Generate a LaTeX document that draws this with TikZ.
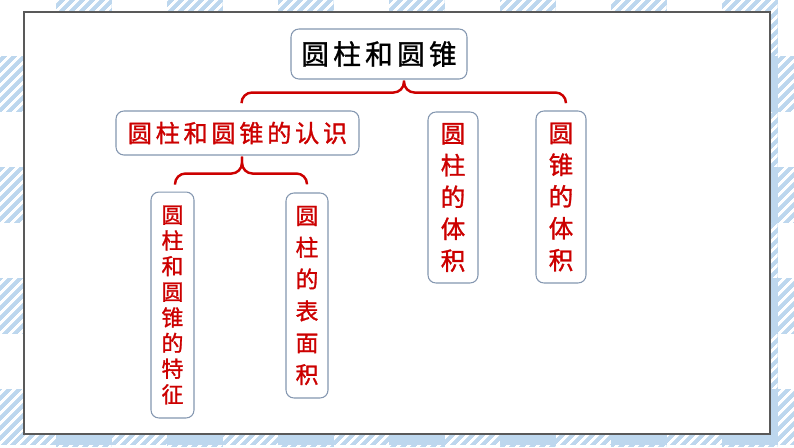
\documentclass[tikz,border=0pt]{standalone}
\usepackage{fontspec}
\newfontfamily\cjk[FakeBold=1.2]{Noto Sans CJK SC}
\newfontfamily\cjkwide[LetterSpace=15,FakeBold=1.2]{Noto Sans CJK SC}
\usetikzlibrary{calc,patterns.meta}
\definecolor{bgblue}{RGB}{189,215,238}
\definecolor{kred}{RGB}{204,0,0}
\definecolor{boxline}{RGB}{132,151,176}
\definecolor{panelline}{RGB}{89,89,89}

\begin{document}
\begin{tikzpicture}[
  x=0.02cm, y=-0.02cm,
  card/.style={draw=boxline, line width=0.6pt, fill=white, rounded corners=4.5pt, align=center, inner sep=0pt},
  stack/.style={card, text=kred, font=\cjk\fontsize{14}{18.1}\selectfont},
  brace/.style={draw=kred, line width=1.4pt, rounded corners=6pt},
  hatch/.style={fill=bgblue, postaction={pattern={Lines[angle=45,distance=4pt,line width=1.6pt]}, pattern color=white}}
]
  % Plaid background
  \useasboundingbox (0,0) rectangle (794,447);
  \fill[white] (0,0) rectangle (794,447);
  \foreach \k in {0,...,6} {
    \path[hatch] (56+111*\k,0) rectangle (111.5+111*\k,447);
  }
  \foreach \k in {0,...,3} {
    \path[hatch] (0,56+111*\k) rectangle (794,111.5+111*\k);
  }
  \foreach \i in {0,...,6} {
    \foreach \k in {0,...,3} {
      \fill[bgblue] (56+111*\i,56+111*\k) rectangle (111.5+111*\i,111.5+111*\k);
    }
  }

  % White panel
  \draw[panelline, line width=0.9pt, fill=white] (24,12) rectangle (770,434);

  % Boxes
  \node[card, minimum width=3.52cm, minimum height=1.0cm, font=\cjkwide\fontsize{15.8}{18}\selectfont] (title) at (379,54) {圆柱和圆锥};
  \node[card, text=kred, minimum width=4.86cm, minimum height=0.88cm, font=\cjkwide\fontsize{13.8}{16}\selectfont] (intro) at (237.5,133) {圆柱和圆锥的认识};
  \node[stack, minimum width=1.0cm, minimum height=3.42cm] (cylvol) at (453,197.5) {圆\\柱\\的\\体\\积};
  \node[stack, minimum width=1.0cm, minimum height=3.44cm] (conevol) at (561,197) {圆\\锥\\的\\体\\积};
  \node[stack, minimum width=0.86cm, minimum height=4.52cm, font=\cjk\fontsize{12.5}{14.6}\selectfont] (feat) at (172.5,305) {圆\\柱\\和\\圆\\锥\\的\\特\\征};
  \node[stack, minimum width=0.84cm, minimum height=4.1cm, font=\cjk\fontsize{13}{18.1}\selectfont] (surf) at (307,295.5) {圆\\柱\\的\\表\\面\\积};

  % Upper brace
  \coordinate (tip1) at ($(title.south)+(25,1)$);
  \coordinate (mid1) at ($(tip1)+(0,12)$);
  \draw[brace] ($(intro.north)+(4,-8)$) |- (mid1) -- (tip1);
  \draw[brace] (tip1) -- (mid1) -| ($(conevol.north)+(5,-8)$);

  % Lower brace
  \coordinate (tip2) at ($(intro.south)+(4.5,1)$);
  \coordinate (mid2) at ($(tip2)+(0,17)$);
  \draw[brace] ($(feat.north)+(2.5,-7)$) |- (mid2) -- (tip2);
  \draw[brace] (tip2) -- (mid2) -| ($(surf.north)+(0,-8)$);
\end{tikzpicture}
\end{document}
